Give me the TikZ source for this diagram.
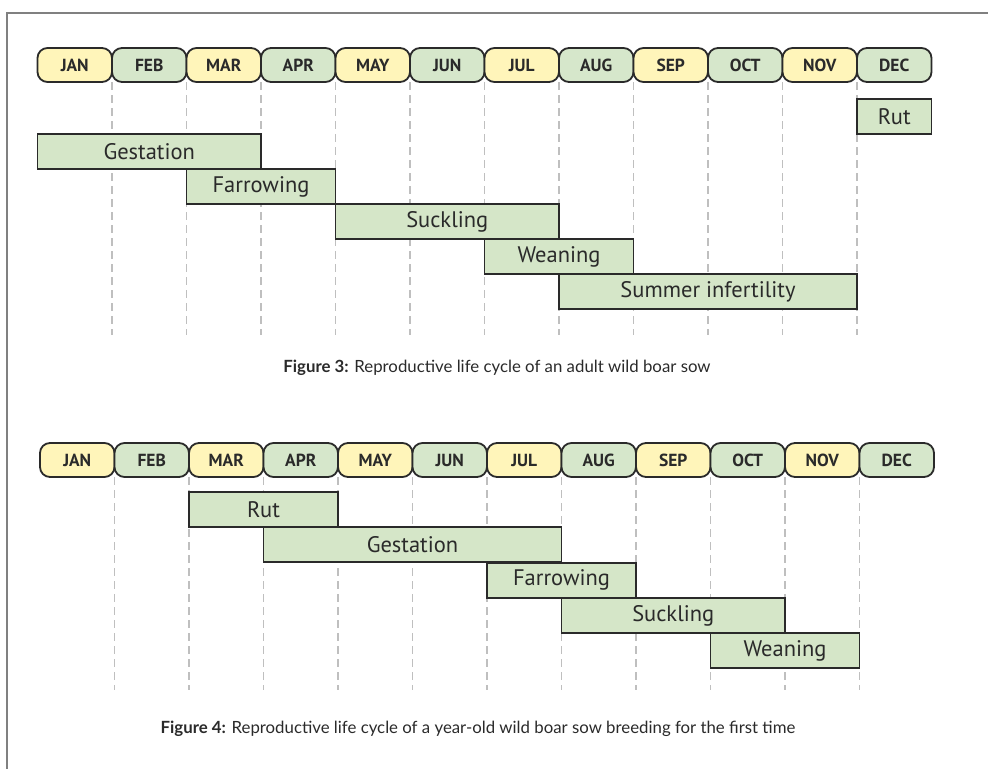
\documentclass[tikz,border=0pt]{standalone}
\usepackage{fontspec}
\setmainfont{PT Sans}
\newfontfamily\capfont{Lato}
\usetikzlibrary{positioning}
\definecolor{monthyellow}{HTML}{FFF5BA}
\definecolor{monthgreen}{HTML}{D6E7CB}
\definecolor{phasegreen}{HTML}{D5E6C8}
\definecolor{inkgray}{HTML}{2A2A2A}
\definecolor{framegray}{HTML}{808080}

\begin{document}
\begin{tikzpicture}[x=1pt,y=-1pt,
	  every node/.style={text=inkgray,draw=inkgray,line width=1.8pt,inner sep=0pt,outer sep=0pt},
	  month/.style={rounded corners=10pt,minimum width=74.5pt,minimum height=34pt,font=\fontsize{17.5}{17.5}\selectfont\bfseries},
	  odd/.style={month,fill=monthyellow},
	  even/.style={month,fill=monthgreen},
	  phase/.style={fill=phasegreen,minimum height=35pt,anchor=north west,font=\fontsize{22.5}{22.5}\selectfont},
	  guide/.style={draw=gray!50,line width=1.2pt,dash pattern=on 8pt off 5pt},
	  caption/.style={draw=none,font=\capfont\fontsize{16.8}{16.8}\selectfont},
	  frame/.style={draw=framegray,line width=2pt}]

	  \useasboundingbox (0,0) rectangle (988,769);

	  % page frame
	  \coordinate (frametl) at (7,13);
	  \coordinate (frametr) at (988,13);
	  \coordinate (framebl) at (7,769);
	  \draw[frame] (frametr) -- (frametl) -- (framebl);

	  % Figure 3: month strip
	  \foreach \m/\s [count=\i] in {JAN/odd,FEB/even,MAR/odd,APR/even,MAY/odd,JUN/even,JUL/odd,AUG/even,SEP/odd,OCT/even,NOV/odd,DEC/even}
	    \node[\s] (m3-\i) at ({37.5+(\i-0.5)*74.5},65) {\m};
	  \coordinate (g3end) at (0,335);
	  \foreach \i in {1,...,11}
	    \draw[guide] (m3-\i.south east) -- (m3-\i.south east |- g3end);

	  % Figure 3: phases
	  \foreach \a/\b/\t [count=\r from 0] in {12/12/Rut,1/3/Gestation,3/4/Farrowing,5/7/Suckling,7/8/Weaning,8/11/Summer infertility}
	    \node[phase,minimum width={(\b-\a+1)*74.5pt}] (f3-\r) at ({37.5+(\a-1)*74.5},{99+35*\r}) {\t};

	  \node[caption] (cap3) at (497,368) {\textbf{Figure 3:} Reproductive life cycle of an adult wild boar sow};

	  % Figure 4: month strip
	  \foreach \m/\s [count=\i] in {JAN/odd,FEB/even,MAR/odd,APR/even,MAY/odd,JUN/even,JUL/odd,AUG/even,SEP/odd,OCT/even,NOV/odd,DEC/even}
	    \node[\s] (m4-\i) at ({40+(\i-0.5)*74.5},460) {\m};
	  \coordinate (g4end) at (0,690);
	  \foreach \i in {1,...,11}
	    \draw[guide] (m4-\i.south east) -- (m4-\i.south east |- g4end);

	  % Figure 4: phases
	  \foreach \a/\b/\t [count=\r from 0] in {3/4/Rut,4/7/Gestation,7/8/Farrowing,8/10/Suckling,10/11/Weaning}
	    \node[phase,minimum width={(\b-\a+1)*74.5pt}] (f4-\r) at ({40+(\a-1)*74.5},{492+35.3*\r}) {\t};

	  \node[caption] (cap4) at (478,729) {\textbf{Figure 4:} Reproductive life cycle of a year-old wild boar sow breeding for the first time};
\end{tikzpicture}
\end{document}
